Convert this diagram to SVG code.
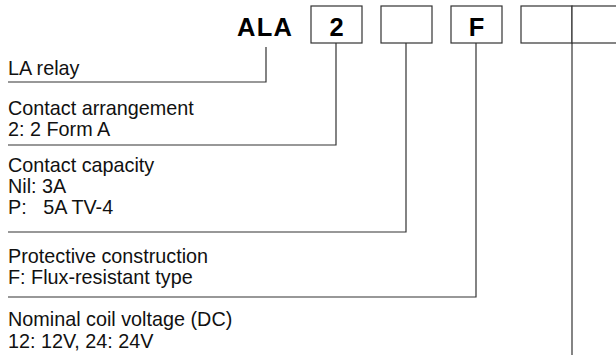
<svg xmlns="http://www.w3.org/2000/svg" width="616" height="358" viewBox="0 0 616 358">
<style>
.t{font-family:"Liberation Sans",Arial,sans-serif;font-size:19.8px;fill:#111}
.b{font-family:"Liberation Sans",Arial,sans-serif;font-size:25.5px;font-weight:bold;fill:#000}
.box{fill:#fff;stroke:#333;stroke-width:1.2}
.ln{fill:none;stroke:#333;stroke-width:1.2}
</style>
<rect width="616" height="358" fill="#fff"/>
<g id="code">
<text class="b" x="237" y="36" letter-spacing="1.3">ALA</text>
<g id="box1"><rect class="box" x="311" y="6" width="51" height="37"/><text class="b" x="336.5" y="36" text-anchor="middle">2</text></g>
<g id="box2"><rect class="box" x="381" y="6" width="51" height="37"/></g>
<g id="box3"><rect class="box" x="451" y="6" width="51" height="37"/><text class="b" x="476.5" y="36" text-anchor="middle">F</text></g>
<g id="box4"><rect class="box" x="521" y="6" width="51" height="37"/></g>
<g id="box5"><rect class="box" x="572" y="6" width="60" height="37"/></g>
</g>
<g id="connectors">
<polyline class="ln" points="266,47 266,82 8,82"/>
<polyline class="ln" points="336,43 336,145 8,145"/>
<polyline class="ln" points="406,43 406,232 8,232"/>
<polyline class="ln" points="476,43 476,297 8,297"/>
<line class="ln" x1="572" y1="43" x2="572" y2="355"/>
</g>
<g id="n1"><text class="t" x="8" y="75">LA relay</text></g>
<g id="n2"><text class="t" x="8" y="115">Contact arrangement</text><text class="t" x="8" y="136">2: 2 Form A</text></g>
<g id="n3"><text class="t" x="8" y="172">Contact capacity</text><text class="t" x="8" y="193">Nil: 3A</text><text class="t" x="8" y="214" xml:space="preserve">P:   5A TV-4</text></g>
<g id="n4"><text class="t" x="8" y="263">Protective construction</text><text class="t" x="8" y="284">F: Flux-resistant type</text></g>
<g id="n5"><text class="t" x="8" y="326">Nominal coil voltage (DC)</text><text class="t" x="8" y="348">12: 12V, 24: 24V</text></g>
</svg>
